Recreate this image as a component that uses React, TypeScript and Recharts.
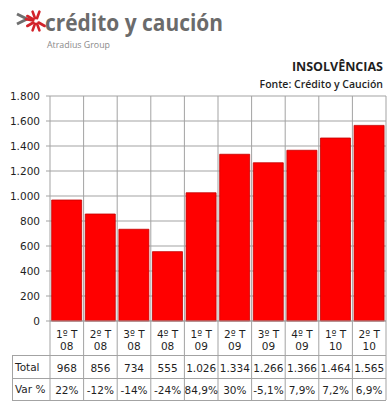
import { Bar, BarChart, CartesianGrid, XAxis, YAxis } from "recharts"

const quarters = ["1º T", "2º T", "3º T", "4º T", "1º T", "2º T", "3º T", "4º T", "1º T", "2º T"]
const years = ["08", "08", "08", "08", "09", "09", "09", "09", "10", "10"]
const totals = [968, 856, 734, 555, 1026, 1334, 1266, 1366, 1464, 1565]
const variations = ["22%", "-12%", "-14%", "-24%", "84,9%", "30%", "-5,1%", "7,9%", "7,2%", "6,9%"]
const yTicks = [0, 200, 400, 600, 800, 1000, 1200, 1400, 1600, 1800]

const chartData = totals.map((total, i) => ({
  key: i,
  quarter: quarters[i],
  year: years[i],
  total,
  variation: variations[i],
}))

// portuguese style thousands separator: 1026 -> 1.026
const fmt = (v: number) => v.toString().replace(/\B(?=(\d{3})+(?!\d))/g, ".")

const W = 390
const H = 404
const PLOT_LEFT = 50
const PLOT_RIGHT = 386
const PLOT_TOP = 96
const PLOT_BOTTOM = 321
const BAND = (PLOT_RIGHT - PLOT_LEFT) / totals.length
const GRID = "#a3a3a3"
const TEXT = "#1f1f1f"
const FONT = "'DejaVu Sans', Verdana, sans-serif"

function TableTick(props: any) {
  const { x, y, payload } = props
  const row = chartData[payload.value]
  if (!row) return null
  const left = x - BAND / 2
  const right = x + BAND / 2
  return (
    <g fontFamily={FONT} fontSize={10.5} fill={TEXT} textAnchor="middle">
      {payload.value === 0 && <line x1={left} x2={left} y1={y} y2={y + 79} stroke={GRID} />}
      <line x1={right} x2={right} y1={y} y2={y + 79} stroke={GRID} />
      <text x={x} y={y + 17}>{row.quarter}</text>
      <text x={x} y={y + 29}>{row.year}</text>
      <text x={x} y={y + 51}>{fmt(row.total)}</text>
      <text x={x} y={y + 73}>{row.variation}</text>
    </g>
  )
}

function Overlay() {
  const rays = [-150, -110, -70, 30, 70, 110, 150, 190]
  return (
    <svg width={W} height={H} style={{ position: "absolute", left: 0, top: 0, pointerEvents: "none" }}>
      {/* logo */}
      <path d="M17 14 L27 19 L17 24" fill="none" stroke="#6f6f6f" strokeWidth={3} />
      {rays.map((a) => {
        const r = (a * Math.PI) / 180
        return (
          <line
            key={a}
            x1={36 + Math.cos(r) * 3}
            y1={21 + Math.sin(r) * 3}
            x2={36 + Math.cos(r) * 10}
            y2={21 + Math.sin(r) * 10}
            stroke="#d2232a"
            strokeWidth={2.6}
            strokeLinecap="round"
          />
        )
      })}
      <text x={45} y={31} fontFamily="'Open Sans', sans-serif" fontWeight={700} fontSize={24} fill="#6b6b6b" textLength={178} lengthAdjust="spacingAndGlyphs">
        crédito y caución
      </text>
      <text x={47} y={48} fontFamily="'Open Sans', sans-serif" fontSize={9} fill="#8a8a8a" textLength={63} lengthAdjust="spacingAndGlyphs">
        Atradius Group
      </text>

      {/* titles */}
      <text x={383} y={71} textAnchor="end" fontFamily="'Open Sans', sans-serif" fontWeight={700} fontSize={12.5} fill={TEXT}>
        INSOLVÊNCIAS
      </text>
      <text x={383} y={88} textAnchor="end" fontFamily="'Open Sans', sans-serif" fontWeight={600} fontSize={10.5} fill={TEXT}>
        Fonte: Crédito y Caución
      </text>

      {/* table frame */}
      <line x1={12} x2={PLOT_RIGHT} y1={355.5} y2={355.5} stroke={GRID} />
      <line x1={12} x2={PLOT_RIGHT} y1={378.5} y2={378.5} stroke={GRID} />
      <line x1={12} x2={PLOT_RIGHT} y1={400.5} y2={400.5} stroke={GRID} />
      <line x1={12.5} x2={12.5} y1={355} y2={401} stroke={GRID} />
      <g fontFamily={FONT} fontSize={10.5} fill={TEXT}>
        <text x={15} y={371}>Total</text>
        <text x={15} y={393}>Var %</text>
      </g>
    </svg>
  )
}

export default function App() {
  return (
    <div style={{ position: "absolute", left: 0, top: 0, width: W, height: H, background: "#fff" }}>
      <BarChart
        width={W}
        height={H}
        data={chartData}
        margin={{ top: PLOT_TOP, right: W - PLOT_RIGHT, bottom: 0, left: 0 }}
        barCategoryGap="5%"
      >
        <CartesianGrid
          stroke={GRID}
          verticalCoordinatesGenerator={({ offset }: any) =>
            totals.map((_, i) => offset.left + (i + 1) * (offset.width / totals.length))
          }
        />
        <XAxis
          dataKey="key"
          height={H - PLOT_BOTTOM}
          interval={0}
          tickLine={false}
          tickSize={0}
          tickMargin={0}
          stroke={GRID}
          tick={<TableTick />}
        />
        <YAxis
          width={PLOT_LEFT}
          domain={[0, 1800]}
          ticks={yTicks}
          interval={0}
          tickFormatter={fmt}
          stroke={GRID}
          tickSize={4}
          tickMargin={6}
          tick={{ fill: TEXT, fontSize: 10.5, fontFamily: FONT }}
        />
        <Bar dataKey="total" fill="#ff0000" stroke="#c40000" strokeWidth={0.8} isAnimationActive={false} />
      </BarChart>
      <Overlay />
    </div>
  )
}
